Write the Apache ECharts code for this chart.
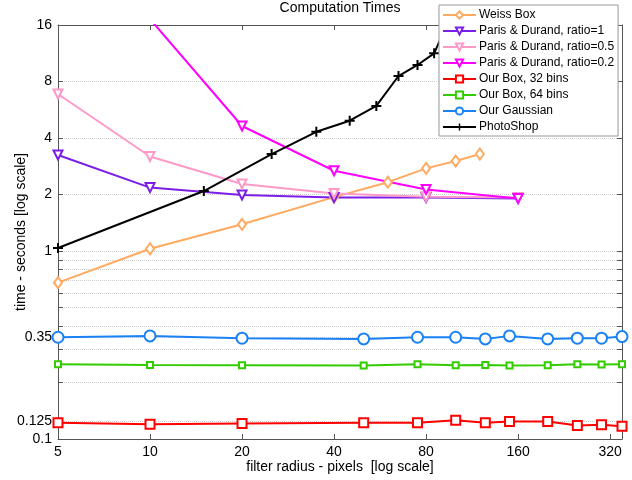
<!DOCTYPE html>
<html>
<head>
<meta charset="utf-8">
<script src="https://cdn.jsdelivr.net/npm/echarts@6/dist/echarts.min.js"></script>
<style>
  html, body { margin: 0; padding: 0; background: #fff; }
  #chart { width: 632px; height: 480px; }
</style>
</head>
<body>
<div id="chart"></div>
<script>
// axis ticks
const xTickValues = [5, 10, 20, 40, 80, 160, 320];
const yLabelValues = [0.1, 0.125, 0.35, 1, 2, 4, 8, 16];
const yGridValues = [0.1, 0.125, 0.2, 0.3, 0.35, 0.4, 0.5, 0.6, 0.7, 0.8, 0.9, 1, 2, 4, 8, 16];

// series data (filter radius -> seconds)
const weissX = [5, 10, 20, 40, 60, 80, 100, 120];
const weissY = [0.68, 1.03, 1.39, 1.94, 2.33, 2.76, 3.02, 3.29];
const parisX = [5, 10, 20, 40, 80, 160];
const parisRatio1 = [3.25, 2.18, 1.99, 1.93, 1.93, 1.91];
const parisRatio05 = [6.87, 3.19, 2.28, 2.03, 1.95, 1.93];
const parisX02 = [10, 20, 40, 80, 160];
const parisRatio02 = [17.2, 4.64, 2.68, 2.13, 1.91];
const ourX = [5, 10, 20, 50, 75, 100, 125, 150, 200, 250, 300, 350];
const box32 = [0.122, 0.120, 0.121, 0.122, 0.122, 0.126, 0.122, 0.124, 0.124, 0.118, 0.119, 0.117];
const box64 = [0.250, 0.248, 0.247, 0.246, 0.250, 0.247, 0.248, 0.246, 0.247, 0.250, 0.249, 0.250];
const gauss = [0.348, 0.354, 0.344, 0.341, 0.348, 0.348, 0.341, 0.354, 0.341, 0.344, 0.344, 0.351];
const photoX = [5, 15, 25, 35, 45, 55, 65, 75, 85, 95];
const photoY = [1.04, 2.09, 3.29, 4.32, 4.95, 5.93, 8.56, 9.80, 11.3, 17];

const font = 'Liberation Sans, Arial, sans-serif';
const axisColor = '#555';
const plusPath = 'path://M4,0h2v4h4v2h-4v4h-2v-4h-4v-2h4z';

function pairs(xs, ys) {
  return xs.map((x, i) => [x, ys[i]]);
}

function makeSeries(name, xs, ys, color, symbol, size, extra) {
  return Object.assign({
    name: name,
    type: 'line',
    data: pairs(xs, ys),
    symbol: symbol,
    symbolSize: size,
    showAllSymbol: true,
    lineStyle: { color: color, width: 2 },
    itemStyle: { color: color, borderColor: color, borderWidth: 2 },
    emphasis: { disabled: true },
    animation: false,
  }, extra || {});
}

const fmt = (v) => String(parseFloat(Number(v).toPrecision(3)));

const xBase = {
  type: 'log',
  logBase: 2,
  min: 5,
  max: 350,
  axisLine: { lineStyle: { color: axisColor, width: 1 } },
  axisTick: { inside: true, length: 5, customValues: xTickValues, lineStyle: { color: axisColor } },
  splitLine: { show: false },
  minorTick: { show: false },
};
const yBase = {
  type: 'log',
  logBase: 2,
  min: 0.1,
  max: 16,
  axisLine: { show: true, lineStyle: { color: axisColor, width: 1 } },
  axisTick: { show: true, inside: true, length: 5, customValues: yGridValues, lineStyle: { color: axisColor } },
  minorTick: { show: false },
};

const chart = echarts.init(document.getElementById('chart'));
chart.setOption({
  backgroundColor: '#fff',
  animation: false,
  title: {
    text: 'Computation Times',
    left: 340,
    textAlign: 'center',
    top: 1,
    padding: 0,
    textStyle: { fontFamily: font, fontSize: 14, fontWeight: 'normal', color: '#000' },
  },
  grid: { left: 58, right: 10, top: 25, bottom: 41, containLabel: false, outerBoundsMode: 'none' },
  legend: {
    orient: 'vertical',
    left: 439,
    top: 5,
    padding: [3, 4, 2, 3],
    itemGap: 2,
    itemWidth: 33,
    itemHeight: 9,
    backgroundColor: '#fff',
    borderColor: '#999',
    borderWidth: 1,
    textStyle: { fontFamily: font, fontSize: 12, color: '#000', lineHeight: 14, padding: [0, 0, 0, -2] },
  },
  xAxis: [
    Object.assign({}, xBase, {
      position: 'bottom',
      name: 'filter radius - pixels  [log scale]',
      nameLocation: 'middle',
      nameGap: 21,
      nameMoveOverlap: false,
      nameTextStyle: { fontFamily: font, fontSize: 14, color: '#000' },
      axisLabel: { customValues: xTickValues, margin: 6, fontFamily: font, fontSize: 14, color: '#000', formatter: fmt },
    }),
    Object.assign({}, xBase, {
      position: 'top',
      axisLabel: { show: false },
    }),
  ],
  yAxis: [
    Object.assign({}, yBase, {
      position: 'left',
      name: 'time - seconds [log scale]',
      nameLocation: 'middle',
      nameGap: 30,
      nameMoveOverlap: false,
      nameTextStyle: { fontFamily: font, fontSize: 14, color: '#000' },
      axisLabel: { customValues: yLabelValues, margin: 6, fontFamily: font, fontSize: 14, color: '#000', formatter: fmt },
      splitLine: { show: true, lineStyle: { color: '#cfcfcf', type: 'dotted', width: 1 } },
    }),
    Object.assign({}, yBase, {
      position: 'right',
      axisLabel: { show: false },
      splitLine: { show: false },
    }),
  ],
  series: [
    makeSeries('Weiss Box', weissX, weissY, '#ffaa60', 'emptyDiamond', [8, 11]),
    makeSeries('Paris & Durand, ratio=1', parisX, parisRatio1, '#7a1ee8', 'emptyTriangle', 9, { symbolRotate: 180 }),
    makeSeries('Paris & Durand, ratio=0.5', parisX, parisRatio05, '#ff99c8', 'emptyTriangle', 9, { symbolRotate: 180 }),
    makeSeries('Paris & Durand, ratio=0.2', parisX02, parisRatio02, '#ff00ff', 'emptyTriangle', 9, { symbolRotate: 180 }),
    makeSeries('Our Box, 32 bins', ourX, box32, '#ff0000', 'emptyRect', 9),
    makeSeries('Our Box, 64 bins', ourX, box64, '#33cc00', 'emptyRect', 6),
    makeSeries('Our Gaussian', ourX, gauss, '#1a82f5', 'emptyCircle', 11),
    makeSeries('PhotoShop', photoX, photoY, '#000000', plusPath, 10, { itemStyle: { color: '#000', borderWidth: 0 } }),
  ],
});
</script>
</body>
</html>
